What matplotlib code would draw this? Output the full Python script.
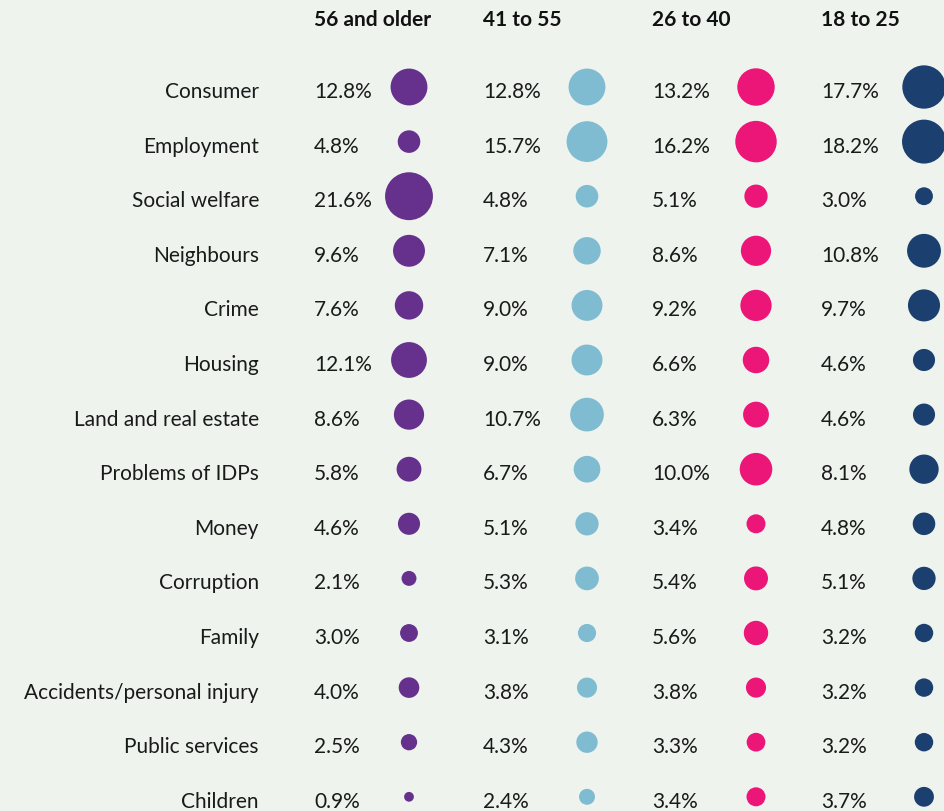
import matplotlib.pyplot as plt
from matplotlib.patches import Circle
import numpy as np

categories = ["Consumer", "Employment", "Social welfare", "Neighbours", "Crime",
              "Housing", "Land and real estate", "Problems of IDPs", "Money",
              "Corruption", "Family", "Accidents/personal injury",
              "Public services", "Children"]
age_groups = ["56 and older", "41 to 55", "26 to 40", "18 to 25"]

older_56 = [12.8, 4.8, 21.6, 9.6, 7.6, 12.1, 8.6, 5.8, 4.6, 2.1, 3.0, 4.0, 2.5, 0.9]
age_41_55 = [12.8, 15.7, 4.8, 7.1, 9.0, 9.0, 10.7, 6.7, 5.1, 5.3, 3.1, 3.8, 4.3, 2.4]
age_26_40 = [13.2, 16.2, 5.1, 8.6, 9.2, 6.6, 6.3, 10.0, 3.4, 5.4, 5.6, 3.8, 3.3, 3.4]
age_18_25 = [17.7, 18.2, 3.0, 10.8, 9.7, 4.6, 4.6, 8.1, 4.8, 5.1, 3.2, 3.2, 3.2, 3.7]
series = [older_56, age_41_55, age_26_40, age_18_25]

colors = ["#66308d", "#7fbcd2", "#ec1679", "#1b3f6e"]
bg = "#eef3ee"

# layout in pixel units (axes spans the whole figure)
W, H = 944, 812
text_x = [314, 483, 652, 821]
dot_x = [409, 587, 756, 924]
label_x = 259
row0, row_step = 92, 54.6
k = 10.3  # diameter px per sqrt(percent)

plt.rcParams['font.family'] = ['Lato', 'DejaVu Sans']

fig = plt.figure(figsize=(W / 100, H / 100), dpi=100, facecolor=bg)
ax = fig.add_axes([0, 0, 1, 1])
ax.set_facecolor(bg)
ax.set_xlim(0, W)
ax.set_ylim(H, 0)
ax.axis('off')

for j, name in enumerate(age_groups):
    ax.text(text_x[j], 20, name, fontsize=15, fontweight='bold',
            color='#111111', ha='left', va='center')

for i, cat in enumerate(categories):
    y = row0 + i * row_step
    ax.text(label_x, y, cat, fontsize=15, color='#1a1a1a', ha='right', va='center')
    for j, vals in enumerate(series):
        v = vals[i]
        ax.text(text_x[j], y, f"{v:.1f}%", fontsize=15, color='#1a1a1a',
                ha='left', va='center')
        r = k * np.sqrt(v) / 2
        ax.add_patch(Circle((dot_x[j], y - 4), r, facecolor=colors[j],
                            edgecolor='none'))

fig.savefig("out.png", dpi=100, facecolor=bg)
